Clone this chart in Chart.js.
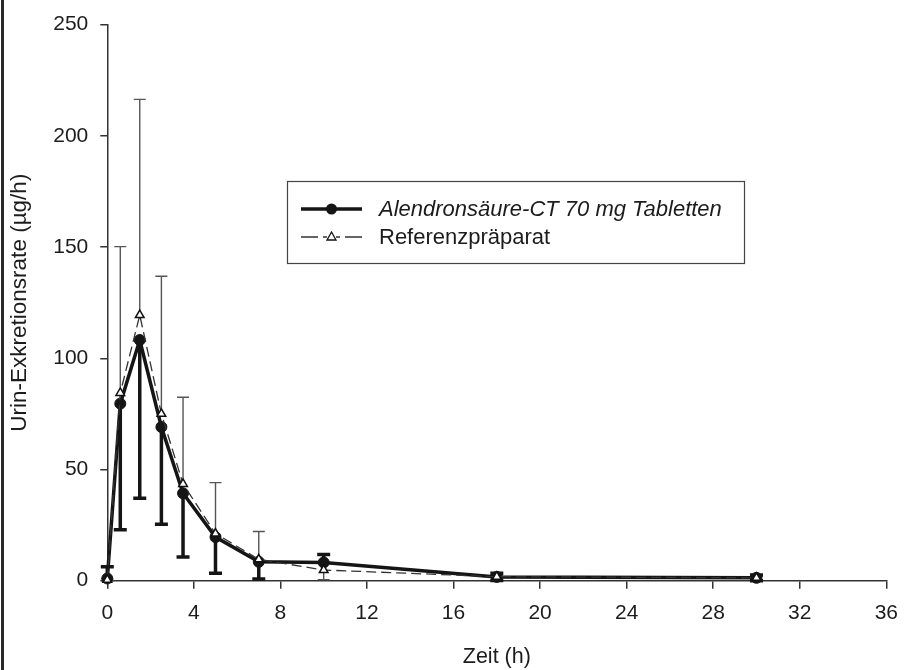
<!DOCTYPE html>
<html>
<head>
<meta charset="utf-8">
<script src="https://cdn.jsdelivr.net/npm/chart.js@4.4.0/dist/chart.umd.min.js"></script>
<style>
  html, body { margin: 0; padding: 0; background: #fff; }
  #wrap { width: 910px; height: 670px; }
</style>
</head>
<body>
<div id="wrap"><canvas id="urinChart" width="910" height="670"></canvas></div>
<script>
// Zeitpunkte (h) und Mittelwerte / SD
const zeit = [0, 0.6, 1.5, 2.5, 3.5, 5, 7, 10, 18, 30];
const testMittel = [1.0, 79.6, 108.2, 69.1, 39.3, 19.6, 8.5, 8.2, 1.7, 1.3];
const testSD = [5.3, 56.7, 71.1, 43.7, 28.6, 16.2, 7.7, 3.6, 1.6, 1.3];
const testRichtung = [1, -1, -1, -1, -1, -1, -1, 1, 0, 0]; // 1 = nach oben, -1 = nach unten, 0 = beide
const refMittel = [0.4, 84.4, 119.4, 75.0, 43.5, 21.2, 9.6, 4.8, 1.8, 1.3];
const refSD = [0.5, 65.8, 97.0, 61.9, 39.0, 22.9, 12.5, 4.3, 1.0, 0.8];
const refRichtung = [0, 1, 1, 1, 1, 1, 1, -1, 0, 0];
const xTicks = [0, 4, 8, 12, 16, 20, 24, 28, 32, 36];
const yTicks = [0, 50, 100, 150, 200, 250];
const serienNamen = ['Alendronsäure-CT 70 mg Tabletten', 'Referenzpräparat'];

const schrift = "'Liberation Sans', Arial, Helvetica, sans-serif";
Chart.defaults.font.family = schrift;
Chart.defaults.font.size = 21;
Chart.defaults.color = '#1c1c1c';

const fehlerbalken = {
  id: 'fehlerbalken',
  beforeDatasetsDraw(chart) {
    const ctx = chart.ctx;
    const x = chart.scales.x, y = chart.scales.y;
    const zeichne = (werte, sd, richtung, farbe, breite, kappe) => {
      ctx.save();
      ctx.strokeStyle = farbe;
      ctx.lineWidth = breite;
      werte.forEach((v, i) => {
        const px = x.getPixelForValue(zeit[i]);
        const enden = richtung[i] === 0 ? [v - sd[i], v + sd[i]] : [v + richtung[i] * sd[i]];
        enden.forEach(e => {
          const py0 = y.getPixelForValue(v);
          const py1 = y.getPixelForValue(Math.max(e, 0));
          ctx.beginPath();
          ctx.moveTo(px, py0);
          ctx.lineTo(px, py1);
          ctx.moveTo(px - kappe, py1);
          ctx.lineTo(px + kappe, py1);
          ctx.stroke();
        });
      });
      ctx.restore();
    };
    zeichne(refMittel, refSD, refRichtung, '#555', 1.4, 6);
    zeichne(testMittel, testSD, testRichtung, '#151515', 3.5, 6.5);
  }
};

const rahmenUndLegende = {
  id: 'rahmenUndLegende',
  afterDraw(chart) {
    const ctx = chart.ctx;
    ctx.save();
    // linker Bildrand
    ctx.fillStyle = '#2a2a2a';
    ctx.fillRect(1, 0, 3, 670);

    // Legendenkasten
    ctx.strokeStyle = '#444';
    ctx.lineWidth = 1.2;
    ctx.strokeRect(287.5, 181.5, 457, 82);

    // Eintrag 1
    ctx.strokeStyle = '#151515';
    ctx.lineWidth = 3.5;
    ctx.beginPath();
    ctx.moveTo(301, 209);
    ctx.lineTo(362, 209);
    ctx.stroke();
    ctx.fillStyle = '#151515';
    ctx.beginPath();
    ctx.arc(331.5, 209, 5.5, 0, Math.PI * 2);
    ctx.fill();

    // Eintrag 2
    ctx.strokeStyle = '#333';
    ctx.lineWidth = 1.3;
    ctx.beginPath();
    ctx.moveTo(301, 237); ctx.lineTo(318, 237);
    ctx.moveTo(323, 237); ctx.lineTo(327, 237);
    ctx.moveTo(336, 237); ctx.lineTo(340, 237);
    ctx.moveTo(345, 237); ctx.lineTo(362, 237);
    ctx.stroke();
    ctx.fillStyle = '#fff';
    ctx.strokeStyle = '#111';
    ctx.lineWidth = 1.3;
    ctx.beginPath();
    ctx.moveTo(331.5, 232);
    ctx.lineTo(336, 240);
    ctx.lineTo(327, 240);
    ctx.closePath();
    ctx.fill();
    ctx.stroke();

    ctx.fillStyle = '#1c1c1c';
    ctx.textBaseline = 'middle';
    ctx.textAlign = 'left';
    ctx.font = 'italic 22px ' + schrift;
    ctx.fillText(serienNamen[0], 379, 210);
    ctx.font = '22px ' + schrift;
    ctx.fillText(serienNamen[1], 379, 238);
    ctx.restore();
  }
};

const ctx = document.getElementById('urinChart').getContext('2d');
const urinChart = new Chart(ctx, {
  type: 'line',
  data: {
    datasets: [{
      label: serienNamen[0],
      data: zeit.map((t, i) => ({ x: t, y: testMittel[i] })),
      borderColor: '#151515',
      borderWidth: 3.5,
      pointRadius: 5.5,
      pointBackgroundColor: '#151515',
      pointBorderColor: '#151515',
      pointBorderWidth: 1,
      tension: 0,
      clip: false,
      order: 2
    }, {
      label: serienNamen[1],
      data: zeit.map((t, i) => ({ x: t, y: refMittel[i] })),
      borderColor: '#333',
      borderWidth: 1.3,
      borderDash: [10, 5],
      pointStyle: 'triangle',
      pointRadius: 5,
      pointBackgroundColor: '#fff',
      pointBorderColor: '#111',
      pointBorderWidth: 1.5,
      tension: 0,
      clip: false,
      order: 1
    }]
  },
  options: {
    responsive: false,
    animation: false,
    layout: { padding: { left: 0, right: 23.3, top: 20.7, bottom: 0 } },
    plugins: {
      legend: { display: false },
      tooltip: { enabled: false }
    },
    scales: {
      x: {
        type: 'linear',
        min: 0,
        max: 36,
        afterBuildTicks: s => { s.ticks = xTicks.map(v => ({ value: v })); },
        afterFit: s => { s.height = 89.3; },
        ticks: { padding: 12, color: '#1c1c1c', font: { size: 21 } },
        grid: { display: true, drawOnChartArea: false, drawTicks: true, tickLength: 8, color: '#333', lineWidth: 1.5 },
        border: { display: true, color: '#333', width: 1.5 },
        title: { display: true, text: 'Zeit (h)', color: '#1c1c1c', font: { size: 21.5 }, padding: { top: 0, bottom: 0 } }
      },
      y: {
        min: 0,
        max: 250,
        afterBuildTicks: s => { s.ticks = yTicks.map(v => ({ value: v })); },
        afterFit: s => { s.width = 107.3; },
        ticks: { padding: 12, color: '#1c1c1c', font: { size: 21 } },
        grid: { display: true, drawOnChartArea: false, drawTicks: true, tickLength: 7, color: '#333', lineWidth: 1.5 },
        border: { display: true, color: '#333', width: 1.5 },
        title: { display: true, text: 'Urin-Exkretionsrate (µg/h)', color: '#1c1c1c', font: { size: 22.5 }, padding: { top: 6, bottom: 0 } }
      }
    }
  },
  plugins: [fehlerbalken, rahmenUndLegende]
});
</script>
</body>
</html>
